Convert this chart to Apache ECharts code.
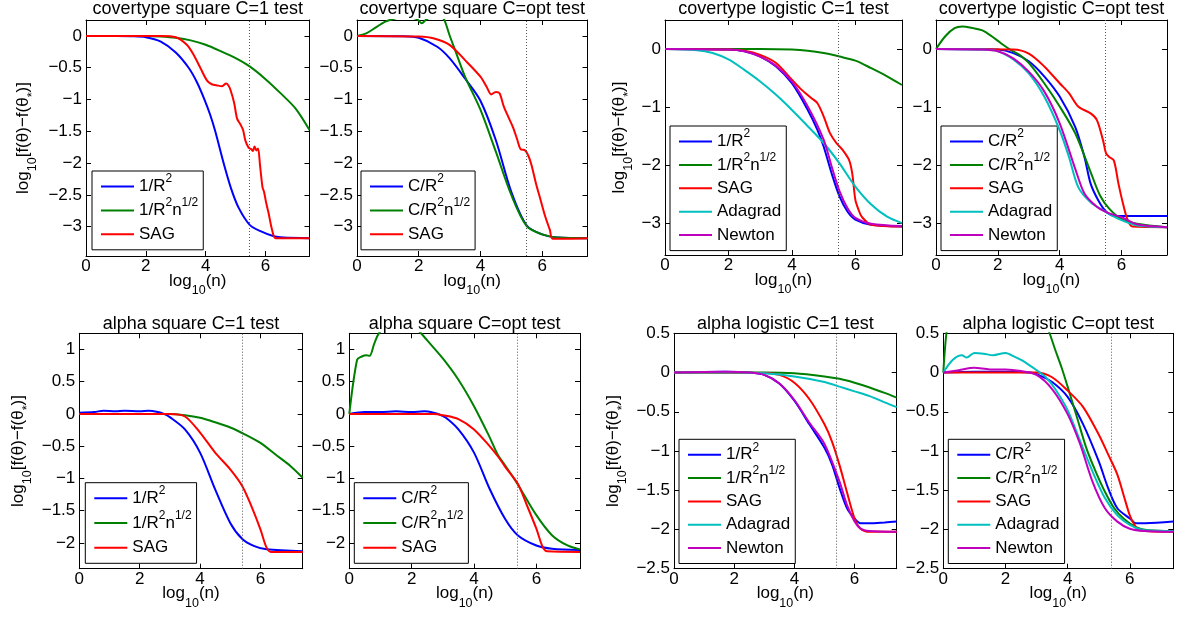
<!DOCTYPE html>
<html><head><meta charset="utf-8">
<script src="https://cdn.jsdelivr.net/npm/echarts@6/dist/echarts.min.js"></script>
<style>html,body{margin:0;padding:0;background:#fff}#c{width:1179px;height:618px}</style>
</head><body><div id="c"></div>
<script>
// ---------- data ----------
const titles = ['covertype square C=1 test','covertype square C=opt test','covertype logistic C=1 test','covertype logistic C=opt test',
                'alpha square C=1 test','alpha square C=opt test','alpha logistic C=1 test','alpha logistic C=opt test'];
const xTicks = [0,2,4,6];
const yTicksCovSq = [-3,-2.5,-2,-1.5,-1,-0.5,0];
const yTicksCovLog = [-3,-2,-1,0];
const yTicksAlphaSq = [-2,-1.5,-1,-0.5,0,0.5,1];
const yTicksAlphaLog = [-2.5,-2,-1.5,-1,-0.5,0,0.5];
const refLineX = [5.47,5.47,5.47,5.47,5.4,5.4,5.4,5.4];

// covertype square C=1
const cs1_R2 = [[0,0],[1,0],[1.5,-0.005],[2,-0.02],[2.5,-0.09],[3,-0.26],[3.43,-0.5],[3.7,-0.72],[3.96,-1.0],[4.15,-1.24],[4.32,-1.5],[4.6,-2.0],[4.85,-2.4],[5.1,-2.7],[5.47,-2.97],[5.83,-3.07],[6.28,-3.15],[6.6,-3.17],[7.47,-3.18]];
const cs1_R2n = [[0,0],[2,0],[2.5,-0.01],[3,-0.03],[3.5,-0.07],[4,-0.14],[4.5,-0.24],[5,-0.35],[5.47,-0.48],[6,-0.68],[6.5,-0.9],[7,-1.14],[7.47,-1.48]];
const cs1_SAG = [[0,0],[2.5,0],[3,-0.02],[3.37,-0.14],[3.6,-0.3],[3.82,-0.5],[4.04,-0.7],[4.2,-0.76],[4.4,-0.78],[4.55,-0.79],[4.68,-0.75],[4.76,-0.78],[4.83,-0.85],[4.95,-1.05],[5.05,-1.3],[5.16,-1.39],[5.25,-1.48],[5.33,-1.65],[5.44,-1.76],[5.52,-1.78],[5.58,-1.81],[5.63,-1.74],[5.7,-1.8],[5.75,-1.77],[5.82,-2.05],[5.9,-2.38],[5.95,-2.45],[6.02,-2.62],[6.1,-2.78],[6.22,-3.05],[6.34,-3.18],[7.47,-3.18]];
// covertype square C=opt
const cs2_R2 = [[0,0],[1.5,-0.005],[2,-0.03],[2.6,-0.17],[3,-0.35],[3.5,-0.67],[4,-1.02],[4.5,-1.64],[5,-2.45],[5.5,-2.98],[6,-3.12],[6.5,-3.17],[7.47,-3.18]];
const cs2_R2n = [[0,0],[0.3,0.04],[0.6,0.13],[0.9,0.22],[1.2,0.27],[1.6,0.3],[1.95,0.26],[2.1,0.2],[2.25,0.26],[2.55,0.32],[2.75,0.3],[2.85,0.23],[3.0,0.01],[3.2,-0.25],[3.5,-0.64],[4,-1.16],[4.5,-1.82],[5,-2.5],[5.5,-2.99],[6,-3.12],[6.5,-3.17],[7.47,-3.18]];
const cs2_SAG = [[0,0],[2,-0.01],[2.5,-0.04],[3,-0.14],[3.5,-0.38],[4,-0.64],[4.2,-0.8],[4.35,-0.92],[4.5,-0.88],[4.62,-0.9],[4.75,-1.1],[4.9,-1.27],[5.05,-1.43],[5.2,-1.64],[5.3,-1.78],[5.45,-1.8],[5.55,-1.88],[5.65,-2.02],[5.8,-2.32],[5.95,-2.58],[6.1,-2.84],[6.25,-3.05],[6.35,-3.19],[7.47,-3.18]];
// covertype logistic C=1
const cl1_R2 = [[0,0],[2,-0.01],[2.5,-0.04],[3,-0.13],[3.5,-0.3],[4,-0.59],[4.5,-1.05],[4.8,-1.39],[5,-1.68],[5.25,-2.14],[5.5,-2.54],[5.75,-2.8],[6,-2.94],[6.5,-3.03],[7.47,-3.06]];
const cl1_R2n = [[0,0],[3,0],[4,-0.01],[4.5,-0.03],[5,-0.07],[5.5,-0.13],[6,-0.2],[6.5,-0.33],[7,-0.47],[7.47,-0.62]];
const cl1_SAG = [[0,0],[2,-0.01],[2.5,-0.03],[3,-0.1],[3.5,-0.24],[4,-0.53],[4.3,-0.7],[4.6,-0.84],[4.8,-0.93],[5,-1.16],[5.2,-1.45],[5.4,-1.62],[5.6,-1.74],[5.8,-1.91],[5.9,-2.14],[6,-2.6],[6.1,-2.77],[6.2,-2.89],[6.5,-3.03],[7.47,-3.06]];
const cl1_Ada = [[0,0],[1,-0.02],[1.5,-0.07],[2,-0.18],[2.5,-0.36],[3,-0.56],[3.5,-0.79],[4,-1.05],[4.5,-1.33],[5,-1.62],[5.5,-1.97],[6,-2.37],[6.5,-2.68],[7,-2.89],[7.47,-3.0]];
const cl1_Newt = [[0,0],[2,-0.01],[2.5,-0.04],[3,-0.13],[3.5,-0.29],[4,-0.56],[4.5,-0.99],[5,-1.56],[5.25,-2.02],[5.5,-2.45],[5.75,-2.74],[6,-2.91],[6.5,-3.01],[7.47,-3.05]];
// covertype logistic C=opt
const cl2_R2 = [[0,0],[1.5,-0.005],[2,-0.01],[2.5,-0.07],[3,-0.21],[3.5,-0.47],[4,-0.82],[4.5,-1.34],[4.8,-1.86],[5,-2.32],[5.25,-2.61],[5.5,-2.8],[5.8,-2.88],[6.2,-2.88],[7.47,-2.88]];
const cl2_R2n = [[0,0],[0.3,0.22],[0.6,0.36],[0.85,0.39],[1.2,0.36],[1.5,0.32],[1.8,0.22],[2.1,0.1],[2.4,-0.01],[2.7,-0.1],[3,-0.24],[3.5,-0.59],[4,-0.99],[4.5,-1.45],[5,-2.12],[5.3,-2.52],[5.6,-2.75],[6,-2.93],[6.5,-3.01],[7.47,-3.07]];
const cl2_SAG = [[0,0],[2.5,-0.01],[3,-0.08],[3.5,-0.3],[4,-0.59],[4.3,-0.76],[4.6,-0.99],[5,-1.11],[5.2,-1.22],[5.4,-1.57],[5.5,-1.8],[5.6,-1.86],[5.75,-1.92],[5.9,-2.32],[6.05,-2.67],[6.2,-2.95],[6.35,-3.06],[7.47,-3.07]];
const cl2_Ada = [[0,0],[1.5,-0.01],[2,-0.04],[2.5,-0.18],[3,-0.42],[3.5,-0.82],[4,-1.4],[4.3,-1.86],[4.6,-2.38],[5,-2.64],[5.5,-2.81],[6,-2.95],[6.5,-3.04],[7.47,-3.07]];
const cl2_Newt = [[0,0],[1.5,-0.01],[2,-0.04],[2.5,-0.16],[3,-0.39],[3.5,-0.73],[4,-1.28],[4.5,-2.06],[4.8,-2.49],[5.2,-2.72],[5.5,-2.81],[6,-2.9],[6.5,-3.02],[7.47,-3.07]];
// alpha square C=1
const as1_R2 = [[0,0.02],[0.5,0.03],[0.8,0.05],[1.2,0.04],[1.5,0.05],[2,0.04],[2.3,0.05],[2.6,0.03],[2.8,0],[3,-0.05],[3.5,-0.24],[4,-0.6],[4.5,-1.17],[5,-1.69],[5.4,-1.94],[5.8,-2.05],[6.2,-2.1],[7.4,-2.13]];
const as1_R2n = [[0,0],[3,0],[3.5,-0.02],[4,-0.06],[4.5,-0.13],[5,-0.21],[5.5,-0.32],[6,-0.45],[6.5,-0.63],[7,-0.81],[7.4,-0.99]];
const as1_SAG = [[0,0],[3,0],[3.5,-0.04],[4,-0.29],[4.5,-0.6],[5,-0.86],[5.4,-1.12],[5.7,-1.43],[6,-1.79],[6.2,-2.07],[6.35,-2.14],[7.4,-2.14]];
// alpha square C=opt
const as2_R2 = [[0,0],[0.5,0.03],[1,0.03],[1.5,0.04],[2,0.03],[2.4,0.04],[2.7,0.02],[2.9,-0.01],[3.1,-0.06],[3.5,-0.24],[4,-0.6],[4.5,-1.16],[5,-1.63],[5.4,-1.88],[6,-2.04],[6.5,-2.09],[7.4,-2.11]];
const as2_R2n = [[0,0],[0.25,0.84],[0.4,0.89],[0.55,0.91],[0.65,0.9],[0.8,1.09],[0.95,1.25],[1.3,1.42],[1.7,1.47],[2.0,1.4],[2.3,1.25],[2.5,1.14],[3,0.86],[3.5,0.53],[4,0.12],[4.5,-0.36],[4.75,-0.62],[5,-0.8],[5.4,-1.09],[6,-1.57],[6.5,-1.88],[7,-2.04],[7.4,-2.1]];
const as2_SAG = [[0,0],[2.7,0],[3,-0.02],[3.5,-0.08],[4,-0.24],[4.5,-0.5],[4.8,-0.68],[5,-0.82],[5.4,-1.08],[5.7,-1.42],[6,-1.78],[6.2,-2.06],[6.35,-2.13],[7.4,-2.14]];
// alpha logistic C=1
const al1_R2 = [[0,0],[1.7,0.01],[2.5,0],[3,-0.03],[3.5,-0.14],[4,-0.36],[4.5,-0.66],[5,-0.96],[5.25,-1.17],[5.5,-1.47],[5.75,-1.73],[6,-1.86],[6.2,-1.92],[6.5,-1.92],[7,-1.91],[7.4,-1.9]];
const al1_R2n = [[0,0],[3,0],[4,-0.01],[5,-0.05],[5.5,-0.08],[6,-0.13],[6.5,-0.19],[7,-0.26],[7.4,-0.32]];
const al1_SAG = [[0,0],[3,-0.005],[3.5,-0.03],[4,-0.13],[4.5,-0.34],[5,-0.66],[5.25,-0.88],[5.5,-1.18],[5.75,-1.53],[6,-1.86],[6.2,-1.99],[6.5,-2.03],[7.4,-2.03]];
const al1_Ada = [[0,0],[2,0],[3,-0.01],[4,-0.05],[5,-0.12],[5.5,-0.18],[6,-0.24],[6.5,-0.3],[7,-0.38],[7.4,-0.44]];
const al1_Newt = [[0,0],[1.7,0.01],[2.5,0],[3,-0.03],[3.5,-0.14],[4,-0.35],[4.5,-0.64],[5,-0.91],[5.5,-1.39],[5.75,-1.69],[6,-1.9],[6.2,-1.99],[6.5,-2.02],[7.4,-2.03]];
// alpha logistic C=opt
const al2_R2 = [[0,0],[1,0.01],[2,0.01],[2.8,0],[3,-0.02],[3.5,-0.12],[4,-0.31],[4.5,-0.66],[5,-1.13],[5.3,-1.47],[5.6,-1.73],[6,-1.86],[6.2,-1.92],[6.5,-1.92],[7.4,-1.9]];
const al2_R2n = [[0,0],[0.1,0.5],[0.3,1.0],[1,1.5],[2,1.4],[2.5,1.2],[3,0.88],[3.4,0.52],[3.6,0.29],[3.8,0.07],[4,-0.18],[4.3,-0.57],[4.6,-0.96],[4.9,-1.26],[5.2,-1.52],[5.5,-1.73],[5.8,-1.86],[6.2,-1.97],[6.6,-2.01],[7.4,-2.02]];
const al2_SAG = [[0,0],[2.8,0],[3,0],[3.5,-0.06],[4,-0.23],[4.5,-0.44],[5,-0.79],[5.3,-1.04],[5.6,-1.3],[5.8,-1.56],[6,-1.82],[6.15,-1.94],[6.3,-2.01],[7.4,-2.03]];
const al2_Ada = [[0,0],[0.3,0.16],[0.6,0.22],[0.75,0.19],[1,0.25],[1.3,0.24],[1.6,0.22],[2,0.25],[2.3,0.2],[2.6,0.14],[3,0.03],[3.3,-0.06],[3.6,-0.21],[4,-0.48],[4.4,-0.87],[4.8,-1.26],[5.2,-1.6],[5.6,-1.82],[6,-1.94],[6.5,-2.01],[7.4,-2.02]];
const al2_Newt = [[0,0],[0.5,0.03],[1,0.06],[1.5,0.04],[2,0.04],[2.5,0.02],[3,-0.03],[3.5,-0.21],[4,-0.53],[4.4,-0.91],[4.8,-1.39],[5.2,-1.73],[5.6,-1.9],[6,-1.99],[6.5,-2.02],[7.4,-2.03]];

// ---------- layout / style ----------
const FONT = '"Liberation Sans", Arial, Helvetica, sans-serif';
const COLORS = {'1/R2':'#0000ff','C/R2':'#0000ff','1/R2n12':'#008000','C/R2n12':'#008000','SAG':'#ff0000','Adagrad':'#00bfbf','Newton':'#bf00bf'};
const LABELS = {'1/R2':'1/R{sup|2}','C/R2':'C/R{sup|2}','1/R2n12':'1/R{sup|2}n{sup|1/2}','C/R2n12':'C/R{sup|2}n{sup|1/2}','SAG':'SAG','Adagrad':'Adagrad','Newton':'Newton'};

const panels = [
 {grid:[86,20,223.5,236], x:[0,7.47], y:[-3.46,0.25], yt:yTicksCovSq, tTop:0, leg:[92,171,-3.1], yName:52,
  s:[['1/R2',cs1_R2],['1/R2n12',cs1_R2n],['SAG',cs1_SAG]]},
 {grid:[357,20,230.5,236], x:[0,7.47], y:[-3.46,0.25], yt:yTicksCovSq, tTop:0, leg:[361,171,-3.1],
  s:[['C/R2',cs2_R2],['C/R2n12',cs2_R2n],['SAG',cs2_SAG]]},
 {grid:[665,20,237,235], x:[0,7.47], y:[-3.55,0.5], yt:yTicksCovLog, tTop:0, leg:[670,126,-3.6], yName:35,
  s:[['1/R2',cl1_R2],['1/R2n12',cl1_R2n],['SAG',cl1_SAG],['Adagrad',cl1_Ada],['Newton',cl1_Newt]]},
 {grid:[936,20,231,235], x:[0,7.47], y:[-3.55,0.5], yt:yTicksCovLog, tTop:0, leg:[941,126,-3.6],
  s:[['C/R2',cl2_R2],['C/R2n12',cl2_R2n],['SAG',cl2_SAG],['Adagrad',cl2_Ada],['Newton',cl2_Newt]]},
 {grid:[79.3,333.3,223.4,235.4], x:[0,7.4], y:[-2.4,1.25], yt:yTicksAlphaSq, tTop:315, leg:[85.3,482.7,-2.2], yName:50,
  s:[['1/R2',as1_R2],['1/R2n12',as1_R2n],['SAG',as1_SAG]]},
 {grid:[349.3,333.3,230.7,235.4], x:[0,7.4], y:[-2.4,1.25], yt:yTicksAlphaSq, tTop:315, leg:[354.3,482.7,-2.2],
  s:[['C/R2',as2_R2],['C/R2n12',as2_R2n],['SAG',as2_SAG]]},
 {grid:[674,333.3,222.7,235.4], x:[0,7.4], y:[-2.5,0.5], yt:yTicksAlphaLog, tTop:315, leg:[679,439.3,-3.7], yName:50,
  s:[['1/R2',al1_R2],['1/R2n12',al1_R2n],['SAG',al1_SAG],['Adagrad',al1_Ada],['Newton',al1_Newt]]},
 {grid:[943.3,333.3,230,235.4], x:[0,7.4], y:[-2.5,0.5], yt:yTicksAlphaLog, tTop:315, leg:[948.3,439.3,-3.7],
  s:[['C/R2',al2_R2],['C/R2n12',al2_R2n],['SAG',al2_SAG],['Adagrad',al2_Ada],['Newton',al2_Newt]]}
];

const fmt = v => (v < 0 ? '\u2212' + String(-v) : String(v));
const nameStyle = {fontSize:17, fontFamily:FONT, color:'#000', lineHeight:22,
  rich:{sub:{fontSize:12.5, fontFamily:FONT, color:'#000', lineHeight:12, padding:[19,0,0,0]}}};
const axLine = {show:true, onZero:false, lineStyle:{color:'#000', width:1}};
const tick = vals => ({show:true, inside:true, length:5, customValues:vals, lineStyle:{color:'#000', width:1}});
const lab = (vals, margin) => ({show:true, customValues:vals, formatter:fmt, margin:margin, fontSize:17, fontFamily:FONT, color:'#000'});

const grid=[], xAxis=[], yAxis=[], series=[], legend=[], title=[];
panels.forEach((p,i)=>{
  const [l,t,w,h] = p.grid;
  grid.push({left:l, top:t, width:w, height:h, containLabel:false, outerBoundsMode:'none', show:false});
  title.push({text:titles[i], left:l + w/2, top:p.tTop, textAlign:'center', padding:0,
    textStyle:{fontSize:18, fontWeight:'normal', fontFamily:FONT, color:'#000'}});
  xAxis.push({type:'value', gridIndex:i, position:'bottom', min:p.x[0], max:p.x[1],
    axisLine:axLine, axisTick:tick(xTicks), axisLabel:lab(xTicks,2), splitLine:{show:false},
    name:'log{sub|10}(n)', nameLocation:'middle', nameGap:14, nameMoveOverlap:false, nameTextStyle:nameStyle});
  xAxis.push({type:'value', gridIndex:i, position:'top', min:p.x[0], max:p.x[1],
    axisLine:axLine, axisTick:tick(xTicks), axisLabel:{show:false}, splitLine:{show:false}});
  const yl = {type:'value', gridIndex:i, position:'left', min:p.y[0], max:p.y[1],
    axisLine:axLine, axisTick:tick(p.yt), axisLabel:lab(p.yt,4), splitLine:{show:false}};
  if (p.yName) Object.assign(yl, {name:'log{sub|10}[f(θ)\u2212f(θ{sub|*})]', nameLocation:'middle', nameGap:p.yName,
    nameMoveOverlap:false, nameTextStyle:nameStyle});
  yAxis.push(yl);
  yAxis.push({type:'value', gridIndex:i, position:'right', min:p.y[0], max:p.y[1],
    axisLine:axLine, axisTick:tick(p.yt), axisLabel:{show:false}, splitLine:{show:false}});
  p.s.forEach(([name,data],k)=>{
    const s = {type:'line', name:name, xAxisIndex:2*i, yAxisIndex:2*i, data:data, symbol:'none',
      smooth:0.3, clip:true, lineStyle:{color:COLORS[name], width:2}, itemStyle:{color:COLORS[name]},
      emphasis:{disabled:true}, silent:true, z:2+k};
    if (k===0) s.markLine = {silent:true, symbol:['none','none'], label:{show:false}, animation:false,
      lineStyle:{type:[1,2], color:'#555', width:1}, emphasis:{disabled:true}, data:[{xAxis:refLineX[i]}]};
    series.push(s);
  });
  legend.push({left:p.leg[0], top:p.leg[1], orient:'vertical', align:'left', itemGap:p.leg[2],
    data:p.s.map(x=>x[0]), itemWidth:33, itemHeight:14, padding:[2,5,2,8], selectedMode:false,
    backgroundColor:'#fff', borderColor:'#000', borderWidth:1, borderRadius:0,
    itemStyle:{opacity:0}, lineStyle:{width:2},
    formatter:n=>LABELS[n],
    textStyle:{fontSize:17, fontFamily:FONT, color:'#000', lineHeight:27,
      rich:{sup:{fontSize:12, fontFamily:FONT, color:'#000', lineHeight:12, verticalAlign:'top'}}}});
});

const chart = echarts.init(document.getElementById('c'), null, {renderer:'canvas'});
chart.setOption({animation:false, backgroundColor:'#fff', title, grid, xAxis, yAxis, legend, series});
</script></body></html>
